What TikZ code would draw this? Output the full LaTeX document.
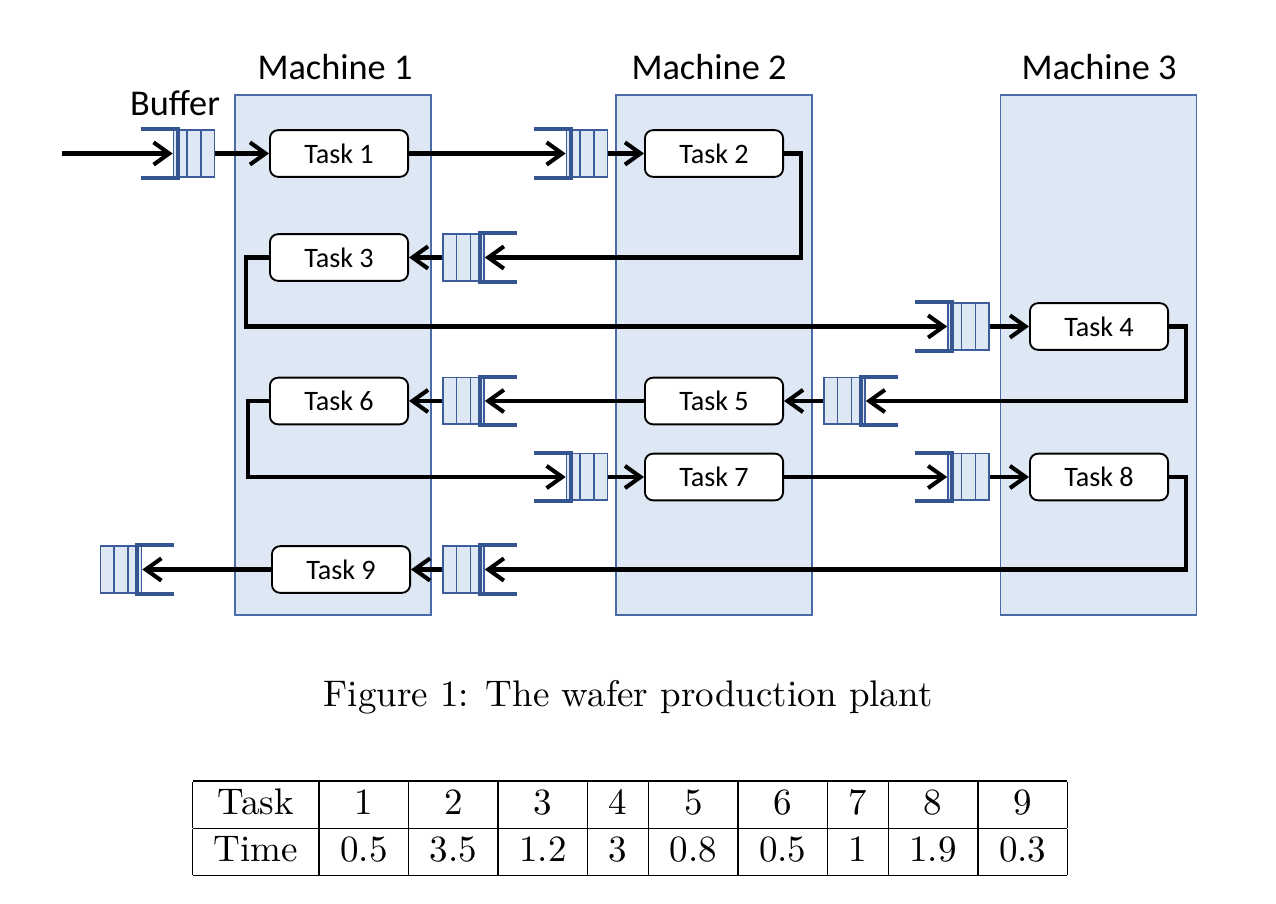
\documentclass[tikz,border=0pt]{standalone}
\usepackage{fontspec}
\newfontfamily\carlito{Carlito}
\usetikzlibrary{arrows.meta,calc}
\definecolor{mfill}{HTML}{DEE8F4}
\definecolor{mdraw}{HTML}{4A6AA8}
\definecolor{bdraw}{HTML}{3C5C9C}
\definecolor{bbrk}{HTML}{34558F}
\tikzset{
  machine/.style={draw=mdraw, fill=mfill, line width=0.4pt, minimum width=52.92pt, minimum height=140.4pt, inner sep=0pt},
  task/.style={draw=black, fill=white, rounded corners=2.2pt, line width=0.5pt, minimum width=37.3pt, minimum height=12.6pt, inner sep=0pt, font=\carlito\fontsize{7.6}{8}\selectfont},
  mlabel/.style={font=\carlito\fontsize{9.8}{11}\selectfont, inner sep=0pt},
  buf/.style={draw=bdraw, fill=mfill, line width=0.45pt, minimum width=11.07pt, minimum height=12.6pt, inner sep=0pt},
  divider/.style={draw=bdraw, line width=0.45pt},
  brk/.style={draw=bbrk, line width=1.1pt},
  flow/.style={line width=1.1pt, -{Straight Barb[length=4.2pt,width=6pt]}}
}
% buffer with entry on the left
\newcommand\BufL[3]{%
  \node[buf] (#1) at (#2,#3) {};
  \draw[divider] ($(#1.north west)!1/3!(#1.north east)$) -- ($(#1.south west)!1/3!(#1.south east)$)
                 ($(#1.north west)!2/3!(#1.north east)$) -- ($(#1.south west)!2/3!(#1.south east)$);
  \draw[brk] ($(#1.north west)+(-32,0)$) -- ($(#1.north west)+(5,0)$) -- ($(#1.south west)+(5,0)$) -- ($(#1.south west)+(-32,0)$);
}
% buffer with entry on the right
\newcommand\BufR[3]{%
  \node[buf] (#1) at (#2,#3) {};
  \draw[divider] ($(#1.north west)!1/3!(#1.north east)$) -- ($(#1.south west)!1/3!(#1.south east)$)
                 ($(#1.north west)!2/3!(#1.north east)$) -- ($(#1.south west)!2/3!(#1.south east)$);
  \draw[brk] ($(#1.north east)+(32,0)$) -- ($(#1.north east)+(-5,0)$) -- ($(#1.south east)+(-5,0)$) -- ($(#1.south east)+(32,0)$);
}
\begin{document}
\begin{tikzpicture}[x=0.27pt,y=-0.27pt]
\useasboundingbox (0,0) rectangle (1276,904);
% machines
\node[machine] (m1) at (333,355) {};
\node[machine] (m2) at (714,355) {};
\node[machine] (m3) at (1098.5,355) {};
\node[mlabel] (l1) at (335,67) {Machine 1};
\node[mlabel] (l2) at (709,67) {Machine 2};
\node[mlabel] (l3) at (1099,67) {Machine 3};
\node[mlabel] (lb) at (175,103) {Buffer};
% tasks
\node[task] (t1) at (339,153.5) {Task 1};
\node[task] (t2) at (714,153.5) {Task 2};
\node[task] (t3) at (339,257.5) {Task 3};
\node[task] (t4) at (1099,326.5) {Task 4};
\node[task] (t5) at (714,401) {Task 5};
\node[task] (t6) at (339,401) {Task 6};
\node[task] (t7) at (714,477) {Task 7};
\node[task] (t8) at (1099,477) {Task 8};
\node[task] (t9) at (341,569.5) {Task 9};
% buffers
\BufL{b0}{194}{153.5}
\BufL{b1}{587}{153.5}
\BufR{b2}{463.5}{257.5}
\BufL{b3}{968.5}{326.5}
\BufR{b4}{844.5}{401}
\BufR{b5}{463.5}{401}
\BufL{b6}{587}{477}
\BufL{b7}{968.5}{477}
\BufR{b8}{463.5}{569.5}
\BufR{b9}{121}{569.5}
% connectors
\coordinate (in) at (62,153.5);
\draw[flow] (in) -- (b0.west);
\draw[flow] (b0.east) -- (t1.west);
\draw[flow] (t1.east) -- (b1.west);
\draw[flow] (b1.east) -- (t2.west);
\draw[flow] (t2.east) -- ++(17,0) |- (b2.east);
\draw[flow] (b2.west) -- (t3.east);
\draw[flow] (t3.west) -- ++(-23,0) |- (b3.west);
\draw[flow] (b3.east) -- (t4.west);
\draw[flow] (t4.east) -- ++(17,0) |- (b4.east);
\draw[flow] (b4.west) -- (t5.east);
\draw[flow] (t5.west) -- (b5.east);
\draw[flow] (b5.west) -- (t6.east);
\draw[flow] (t6.west) -- ++(-21,0) |- (b6.west);
\draw[flow] (b6.east) -- (t7.west);
\draw[flow] (t7.east) -- (b7.west);
\draw[flow] (b7.east) -- (t8.west);
\draw[flow] (t8.east) -- ++(17,0) |- (b8.east);
\draw[flow] (b8.west) -- (t9.east);
\draw[flow] (t9.west) -- (b9.east);
% caption
\node[anchor=base, inner sep=0pt] (cap) at (628,707) {Figure 1: The wafer production plant};
% table
\node[inner sep=0pt] (tab) at (630,828.5) {%
\setlength{\tabcolsep}{5.7pt}\renewcommand{\arraystretch}{1.03}%
\begin{tabular}{|c|c|c|c|c|c|c|c|c|c|}
\hline
Task & 1 & 2 & 3 & 4 & 5 & 6 & 7 & 8 & 9 \\
\hline
Time & 0.5 & 3.5 & 1.2 & 3 & 0.8 & 0.5 & 1 & 1.9 & 0.3 \\
\hline
\end{tabular}};
\end{tikzpicture}
\end{document}
